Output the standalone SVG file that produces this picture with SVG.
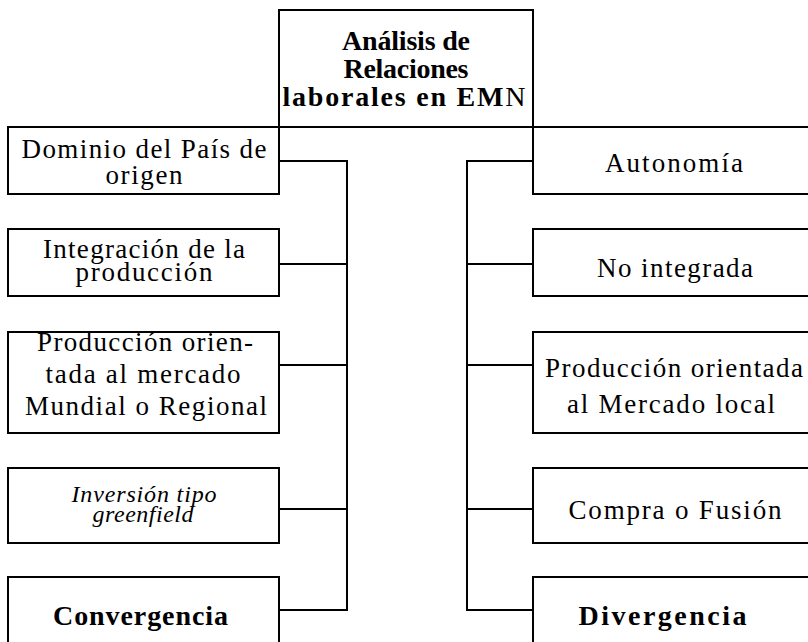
<svg xmlns="http://www.w3.org/2000/svg" width="808" height="642" viewBox="0 0 808 642">
<style>
.box{fill:#fff;stroke:#000;stroke-width:2}
.ln{fill:none;stroke:#000;stroke-width:2}
text{font-family:"Liberation Serif","Times New Roman",serif;fill:#000;text-anchor:middle}
.t{font-size:27px}
.b{font-size:28px;font-weight:bold}
.i{font-size:24px;font-style:italic}
.n{font-weight:normal}
</style>
<rect width="808" height="642" fill="#fff"/>
<g id="connectors">
<line class="ln" x1="8" y1="127" x2="808" y2="127"/>
<path class="ln" d="M279 161 H347 V610 H279 M279 264 H347 M279 365 H347 M279 509 H347"/>
<path class="ln" d="M533 161 H467 V610 H533 M533 264 H467 M533 365 H467 M533 509 H467"/>
</g>
<g id="root">
<rect class="box" x="279" y="10" width="254" height="117"/>
<text class="b" x="406" y="50" textLength="128" lengthAdjust="spacing">Análisis de</text>
<text class="b" x="406" y="78" textLength="125" lengthAdjust="spacing">Relaciones</text>
<text class="b" x="404" y="106" textLength="243" lengthAdjust="spacing">laborales en EM<tspan class="n">N</tspan></text>
</g>
<g id="l1">
<rect class="box" x="8" y="127" width="271" height="67"/>
<text class="t" x="144" y="158" textLength="245" lengthAdjust="spacing">Dominio del País de</text>
<text class="t" x="144" y="184" textLength="77" lengthAdjust="spacing">origen</text>
</g>
<g id="l2">
<rect class="box" x="8" y="229" width="271" height="67"/>
<text class="t" x="144" y="258" textLength="202" lengthAdjust="spacing">Integración de la</text>
<text class="t" x="144" y="281" textLength="137" lengthAdjust="spacing">producción</text>
</g>
<g id="l3">
<rect class="box" x="8" y="332" width="271" height="101"/>
<text class="t" x="145" y="351" textLength="216" lengthAdjust="spacing">Producción orien-</text>
<text class="t" x="143" y="383" textLength="195" lengthAdjust="spacing">tada al mercado</text>
<text class="t" x="146" y="415" textLength="242" lengthAdjust="spacing">Mundial o Regional</text>
</g>
<g id="l4">
<rect class="box" x="8" y="468" width="271" height="75"/>
<text class="i" x="144" y="502" textLength="145" lengthAdjust="spacing">Inversión tipo</text>
<text class="i" x="143" y="522" textLength="101" lengthAdjust="spacing">greenfield</text>
</g>
<g id="l5">
<rect class="box" x="8" y="577" width="271" height="90"/>
<text class="b" x="140.5" y="625" textLength="175" lengthAdjust="spacing">Convergencia</text>
</g>
<g id="r1">
<rect class="box" x="533" y="127" width="290" height="67"/>
<text class="t" x="674" y="172" textLength="138" lengthAdjust="spacing">Autonomía</text>
</g>
<g id="r2">
<rect class="box" x="533" y="229" width="290" height="67"/>
<text class="t" x="675" y="277" textLength="156" lengthAdjust="spacing">No integrada</text>
</g>
<g id="r3">
<rect class="box" x="533" y="332" width="290" height="101"/>
<text class="t" x="674" y="377" textLength="258" lengthAdjust="spacing">Producción orientada</text>
<text class="t" x="671" y="413" textLength="208" lengthAdjust="spacing">al Mercado local</text>
</g>
<g id="r4">
<rect class="box" x="533" y="468" width="290" height="75"/>
<text class="t" x="675" y="519" textLength="213" lengthAdjust="spacing">Compra o Fusión</text>
</g>
<g id="r5">
<rect class="box" x="533" y="577" width="290" height="90"/>
<text class="b" x="662.5" y="625" textLength="168" lengthAdjust="spacing">Divergencia</text>
</g>
</svg>
